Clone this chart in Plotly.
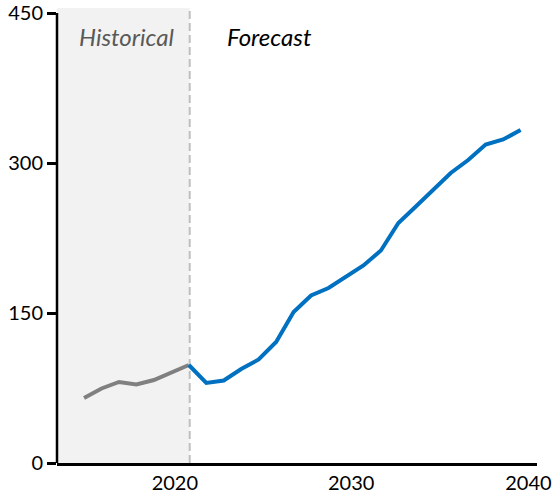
import plotly.graph_objects as go

hist_years = [2015, 2016, 2017, 2018, 2019, 2020, 2021]
hist_values = [65, 74.5, 81, 78.5, 83, 90, 98]

fc_years = list(range(2021, 2041))
fc_values = [98, 80, 82.5, 94, 103.5, 121, 151, 167.5, 175, 186.5, 197.5, 212.5,
             240, 256.5, 273.5, 290, 303, 318.5, 323.5, 333]

y_ticks = [0, 150, 300, 450]
x_tick_pos = [2020.2, 2030.3, 2040.45]
x_tick_text = ["2020", "2030", "2040"]

x_range = [2013.45, 2040.94]
y_range = [0, 455]
y_top = 450
font = "Lato, 'Open Sans', sans-serif"

fig = go.Figure()

# historical shading
fig.add_shape(type="rect", xref="x", yref="y", x0=x_range[0], x1=hist_years[-1] + 0.05,
              y0=0, y1=y_range[1], fillcolor="#F2F2F2", line_width=0, layer="below")
# divider
fig.add_shape(type="line", xref="x", yref="y", x0=hist_years[-1] + 0.05, x1=hist_years[-1] + 0.05,
              y0=0, y1=y_range[1] - 3, line=dict(color="#BFBFBF", width=2, dash="8px,4px"), layer="below")

fig.add_trace(go.Scatter(x=hist_years, y=hist_values, mode="lines",
                         line=dict(color="#808080", width=4), showlegend=False, hoverinfo="skip"))
fig.add_trace(go.Scatter(x=fc_years, y=fc_values, mode="lines",
                         line=dict(color="#0070C0", width=4), showlegend=False, hoverinfo="skip"))

# y axis line up to the top tick
fig.add_shape(type="line", xref="paper", yref="y", x0=0, x1=0, y0=0, y1=y_top,
              line=dict(color="black", width=2.5))

fig.add_annotation(x=2017.45, y=427, text="<i>Historical</i>", showarrow=False,
                   font=dict(family=font, size=24, color="#595959"), xanchor="center", yanchor="middle")
fig.add_annotation(x=2025.6, y=427, text="<i>Forecast</i>", showarrow=False,
                   font=dict(family=font, size=24, color="#000000"), xanchor="center", yanchor="middle")

fig.update_layout(
    width=557, height=502,
    margin=dict(l=57, r=20, t=8, b=39),
    paper_bgcolor="white", plot_bgcolor="white",
    font=dict(family=font, size=20, color="black"),
    xaxis=dict(range=x_range, tickvals=x_tick_pos, ticktext=x_tick_text, showgrid=False,
               zeroline=False, showline=True, linecolor="black", linewidth=2.5, ticks="",
               automargin=False, tickfont=dict(size=20, color="black")),
    yaxis=dict(range=y_range, tickvals=y_ticks, showgrid=False, zeroline=False, showline=False,
               ticks="outside", ticklen=9, tickwidth=2.5, tickcolor="black", automargin=False,
               tickfont=dict(size=20, color="black")),
)

# remove the default 8px page margin so the figure sits at the window's corner
fig.write_html("out.html", config={"displayModeBar": False},
               post_script="document.body.style.margin='0';document.body.style.overflow='hidden';")
